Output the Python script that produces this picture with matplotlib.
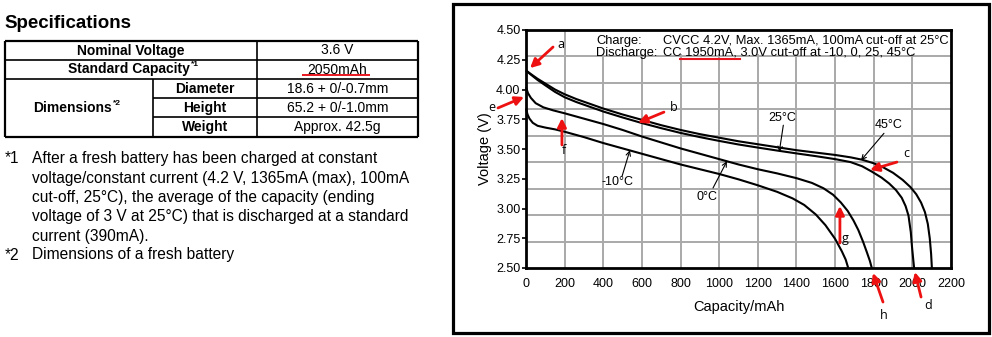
import numpy as np
import matplotlib
matplotlib.use("Agg")
import matplotlib.pyplot as plt
from matplotlib.patches import Rectangle
from matplotlib.lines import Line2D

plt.rcParams['font.family'] = ['Liberation Sans', 'DejaVu Sans']

# ---------------- data ----------------
cap_45 = [0, 25, 60, 100, 150, 200, 260, 330, 400, 500, 600, 700, 800, 900, 1000, 1100, 1200,
          1300, 1400, 1500, 1600, 1680, 1740, 1800, 1850, 1900, 1950, 1990, 2020, 2045, 2065,
          2080, 2090, 2097, 2101]
volt_45 = [4.16, 4.13, 4.09, 4.05, 4.00, 3.96, 3.92, 3.88, 3.84, 3.79, 3.745, 3.70, 3.66, 3.625,
           3.595, 3.565, 3.54, 3.515, 3.49, 3.47, 3.45, 3.43, 3.41, 3.38, 3.345, 3.30, 3.24, 3.18,
           3.12, 3.05, 2.97, 2.87, 2.75, 2.62, 2.50]

cap_25 = [0, 25, 60, 100, 150, 200, 260, 330, 400, 500, 600, 700, 800, 900, 1000, 1100, 1200,
          1300, 1400, 1500, 1600, 1680, 1740, 1790, 1840, 1880, 1915, 1945, 1965, 1980, 1992,
          1998, 2004, 2009]
volt_25 = [4.16, 4.125, 4.08, 4.035, 3.98, 3.935, 3.895, 3.855, 3.815, 3.765, 3.718, 3.675, 3.635,
           3.60, 3.568, 3.538, 3.512, 3.487, 3.463, 3.44, 3.415, 3.39, 3.355, 3.31, 3.26, 3.21,
           3.155, 3.09, 3.02, 2.94, 2.80, 2.68, 2.58, 2.50]

cap_0 = [0, 10, 25, 50, 90, 140, 200, 300, 400, 500, 600, 700, 800, 900, 1000, 1100, 1200, 1300,
         1400, 1480, 1540, 1590, 1630, 1665, 1695, 1720, 1745, 1765, 1780, 1790]
volt_0 = [4.02, 3.97, 3.93, 3.885, 3.85, 3.825, 3.80, 3.755, 3.71, 3.66, 3.605, 3.555, 3.505,
          3.46, 3.415, 3.37, 3.33, 3.295, 3.255, 3.215, 3.17, 3.115, 3.05, 2.98, 2.90, 2.82,
          2.72, 2.63, 2.56, 2.50]

cap_m10 = [0, 8, 18, 35, 60, 100, 150, 200, 300, 400, 500, 600, 700, 800, 900, 1000, 1100, 1200,
           1300, 1380, 1440, 1500, 1550, 1600, 1635, 1655, 1668]
volt_m10 = [3.84, 3.79, 3.755, 3.72, 3.695, 3.68, 3.665, 3.645, 3.60, 3.55, 3.505, 3.46, 3.415,
            3.37, 3.33, 3.29, 3.245, 3.195, 3.14, 3.085, 3.03, 2.95, 2.86, 2.745, 2.64, 2.57, 2.50]

x_ticks = list(range(0, 2201, 200))
y_ticks = [2.50, 2.75, 3.00, 3.25, 3.50, 3.75, 4.00, 4.25, 4.50]

spec_rows = ["Nominal Voltage", "Standard Capacity", "Dimensions"]
dim_rows = ["Diameter", "Height", "Weight"]
spec_values = ["3.6 V", "2050mAh", "18.6 + 0/-0.7mm", "65.2 + 0/-1.0mm", "Approx. 42.5g"]
note1_lines = ["After a fresh battery has been charged at constant",
               "voltage/constant current (4.2 V, 1365mA (max), 100mA",
               "cut-off, 25\u00b0C), the average of the capacity (ending",
               "voltage of 3 V at 25\u00b0C) that is discharged at a standard",
               "current (390mA)."]
note2 = "Dimensions of a fresh battery"

# ---------------- figure ----------------
W, H = 992, 337
fig = plt.figure(figsize=(W / 100, H / 100), dpi=100)


def fx(px):
    return px / W


def fy(py):
    return 1 - py / H


def fline(x0, y0, x1, y1, lw=1.2, color='black'):
    fig.add_artist(Line2D([fx(x0), fx(x1)], [fy(y0), fy(y1)], color=color, lw=lw,
                          transform=fig.transFigure, solid_capstyle='butt'))


# ---- left: specifications ----
fig.text(fx(4), fy(23), "Specifications", fontsize=13.5, fontweight='bold',
         ha='left', va='center')

tl, tsplit, tmid, tr = 5, 153.3, 256.7, 418.3
rows_y = [40.7, 60, 79, 98.3, 117.3, 136.7]
fline(tl, rows_y[0], tr, rows_y[0], lw=1.6)
fline(tl, rows_y[-1], tr, rows_y[-1], lw=1.6)
fline(tl, rows_y[0], tl, rows_y[-1], lw=1.6)
fline(tr, rows_y[0], tr, rows_y[-1], lw=1.6)
fline(tl, rows_y[1], tr, rows_y[1])
fline(tl, rows_y[2], tr, rows_y[2])
fline(tsplit, rows_y[3], tr, rows_y[3])
fline(tsplit, rows_y[4], tr, rows_y[4])
fline(tmid, rows_y[0], tmid, rows_y[-1])
fline(tsplit, rows_y[2], tsplit, rows_y[-1])

tfs = 10
fig.text(fx((tl + tmid) / 2), fy(50.5), spec_rows[0], fontsize=tfs, fontweight='bold',
         ha='center', va='center')
fig.text(fx(129), fy(69.5), spec_rows[1], fontsize=tfs, fontweight='bold',
         ha='center', va='center')
fig.text(fx(191), fy(65), "*1", fontsize=6, fontweight='bold', ha='left', va='center')
fig.text(fx(73), fy(108), spec_rows[2], fontsize=tfs, fontweight='bold',
         ha='center', va='center')
fig.text(fx(113), fy(103.5), "*2", fontsize=6, fontweight='bold', ha='left', va='center')
for name, yc in zip(dim_rows, [88.7, 107.8, 127]):
    fig.text(fx((tsplit + tmid) / 2), fy(yc), name, fontsize=tfs, fontweight='bold',
             ha='center', va='center')
for val, yc in zip(spec_values, [50.5, 69.5, 88.7, 107.8, 127]):
    fig.text(fx((tmid + tr) / 2), fy(yc), val, fontsize=tfs, ha='center', va='center')
fline(302, 74.5, 370, 74.5, lw=1.4, color='#e8171f')

nfs = 11.2
note_y = [158.3, 178, 197.3, 217, 236.2]
fig.text(fx(5), fy(note_y[0]), "*1", fontsize=nfs, ha='left', va='center')
for line, yc in zip(note1_lines, note_y):
    fig.text(fx(32), fy(yc), line, fontsize=nfs, ha='left', va='center')
fig.text(fx(5), fy(255), "*2", fontsize=nfs, ha='left', va='center')
fig.text(fx(32), fy(255), note2, fontsize=nfs, ha='left', va='center')

# ---- right: chart frame ----
fig.add_artist(Rectangle((fx(452.5), fy(332.5)), fx(989 - 452.5), (332.5 - 3.5) / H,
                         transform=fig.transFigure, fill=False, lw=2.3, ec='black'))

ax = fig.add_axes([fx(526), fy(268), (951 - 526) / W, (268 - 30) / H])
ax.set_xlim(0, 2200)
ax.set_ylim(2.5, 4.5)

grid_c = '#a9a9a9'
for xv in x_ticks[1:-1]:
    ax.axvline(xv, color=grid_c, lw=1.4, zorder=0)
for yv in np.linspace(2.5, 4.5, 10)[1:-1]:
    ax.axhline(yv, color=grid_c, lw=1.4, zorder=0)

ax.add_patch(Rectangle((0.151, 0.898), 0.849, 0.102, transform=ax.transAxes,
                       fc='white', ec='none', zorder=1))

for c, v in [(cap_45, volt_45), (cap_25, volt_25), (cap_0, volt_0), (cap_m10, volt_m10)]:
    ax.plot(c, v, color='black', lw=1.5, zorder=3, solid_joinstyle='round',
            solid_capstyle='butt', clip_on=False)

ax.set_xticks(x_ticks)
ax.set_xticklabels([str(t) for t in x_ticks])
ax.set_yticks(y_ticks)
ax.set_yticklabels(["%.2f" % t for t in y_ticks])
ax.tick_params(axis='x', length=0, pad=7, labelsize=9)
ax.tick_params(axis='y', length=3, width=1.2, pad=1, labelsize=9, direction='out')
for s in ax.spines.values():
    s.set_linewidth(2.0)
ax.set_xlabel("Capacity/mAh", fontsize=10.5, labelpad=7.5)
ax.set_ylabel("Voltage (V)", fontsize=10.5, labelpad=3)

cfs = 9.3
ax.text(362, 4.41, "Charge:", fontsize=cfs, ha='left', va='center', zorder=4)
ax.text(709, 4.41, "CVCC 4.2V, Max. 1365mA, 100mA cut-off at 25\u00b0C", fontsize=cfs,
        ha='left', va='center', zorder=4)
ax.text(362, 4.31, "Discharge:", fontsize=cfs, ha='left', va='center', zorder=4)
ax.text(709, 4.31, "CC 1950mA, 3.0V cut-off at -10, 0, 25, 45\u00b0C", fontsize=cfs,
        ha='left', va='center', zorder=4)
ax.plot([797, 1108], [4.258, 4.258], color='#e8171f', lw=1.5, zorder=4)

blk = dict(arrowstyle='->', color='black', lw=0.8, shrinkA=0, shrinkB=0, mutation_scale=8)
ax.annotate("", xy=(1311, 3.475), xytext=(1332, 3.70), arrowprops=blk, zorder=5)
ax.text(1325, 3.76, "25\u00b0C", fontsize=9, ha='center', va='center', zorder=5)
ax.annotate("", xy=(1734, 3.405), xytext=(1853, 3.632), arrowprops=blk, zorder=5)
ax.text(1879, 3.70, "45\u00b0C", fontsize=9, ha='center', va='center', zorder=5)
ax.annotate("", xy=(538, 3.49), xytext=(497, 3.27), arrowprops=blk, zorder=5)
ax.text(476, 3.22, "-10\u00b0C", fontsize=9, ha='center', va='center', zorder=5)
ax.annotate("", xy=(1040, 3.397), xytext=(968, 3.172), arrowprops=blk, zorder=5)
ax.text(937, 3.097, "0\u00b0C", fontsize=9, ha='center', va='center', zorder=5)

red = dict(arrowstyle='-|>', color='#ee1111', lw=2.0, shrinkA=0, shrinkB=0, mutation_scale=13)
marks = [
    ("a", (181, 4.374), (140, 4.357), (21, 4.18)),
    ("b", (766, 3.845), (714, 3.81), (580, 3.72)),
    ("c", (1967, 3.458), (1920, 3.39), (1781, 3.324)),
    ("d", (2081, 2.189), (2045, 2.256), (2013, 2.466)),
    ("h", (1853, 2.105), (1848, 2.214), (1796, 2.458)),
    ("g", (1651, 2.744), (1625, 2.71), (1625, 3.021)),
    ("f", (197, 3.49), (186, 3.534), (186, 3.76)),
    ("e", (-176, 3.845), (-145, 3.845), (-10, 3.937)),
]
for letter, lpos, tail, tip in marks:
    ax.annotate("", xy=tip, xytext=tail, arrowprops=red, zorder=6, annotation_clip=False)
    ax.text(lpos[0], lpos[1], letter, fontsize=9, family=['Open Sans', 'DejaVu Sans'],
            ha='center', va='center', zorder=6, clip_on=False)

fig.savefig("out.png", dpi=100)
